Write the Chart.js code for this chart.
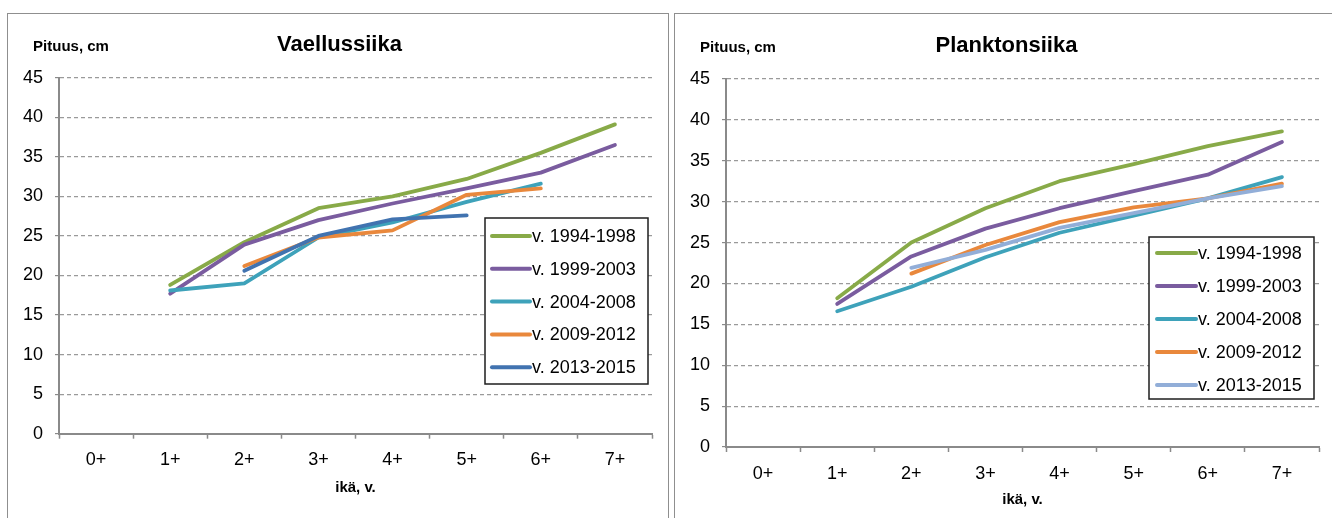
<!DOCTYPE html>
<html>
<head>
<meta charset="utf-8">
<script src="https://cdn.jsdelivr.net/npm/chart.js@4.4.1/dist/chart.umd.min.js"></script>
<style>
  html, body { margin: 0; padding: 0; background: #fff; }
  body { width: 1332px; height: 518px; position: relative; overflow: hidden; }
  .panel { position: absolute; border: 1.5px solid #8f8f8f; border-bottom: none; box-sizing: border-box; }
  canvas { position: absolute; }
</style>
</head>
<body>
<div class="panel" style="left:7px;top:13px;width:662px;height:530px"></div>
<div class="panel" style="left:674px;top:13px;width:670px;height:530px"></div>
<canvas id="vaellus" style="left:0;top:0" width="668" height="518"></canvas>
<canvas id="plankton" style="left:668px;top:0" width="664" height="518"></canvas>

<script>
// Age classes on the x axis and tick values on the y axis (length, cm)
const ageClasses = ['0+', '1+', '2+', '3+', '4+', '5+', '6+', '7+'];
const lengthTicks = [0, 5, 10, 15, 20, 25, 30, 35, 40, 45];

// Sampling periods (legend entries)
const periods = ['v. 1994-1998', 'v. 1999-2003', 'v. 2004-2008', 'v. 2009-2012', 'v. 2013-2015'];

// Vaellussiika: mean length by age, one array per period
const vaellus1994 = [null, 18.8, 24.2, 28.5, 30.0, 32.2, 35.5, 39.1];
const vaellus1999 = [null, 17.7, 23.9, 27.0, 29.1, 31.0, 33.0, 36.5];
const vaellus2004 = [null, 18.1, 19.0, 24.8, 26.7, 29.3, 31.6, null];
const vaellus2009 = [null, null, 21.2, 24.8, 25.7, 30.2, 31.0, null];
const vaellus2013 = [null, null, 20.6, 25.0, 27.1, 27.6, null, null];

// Planktonsiika: mean length by age, one array per period
const plankton1994 = [null, 18.2, 25.0, 29.2, 32.5, 34.6, 36.8, 38.6];
const plankton1999 = [null, 17.5, 23.3, 26.7, 29.2, 31.3, 33.3, 37.3];
const plankton2004 = [null, 16.6, 19.6, 23.2, 26.2, 28.3, 30.4, 33.0];
const plankton2009 = [null, null, 21.2, 24.7, 27.5, 29.3, 30.4, 32.2];
const plankton2013 = [null, null, 21.9, 24.1, 26.8, 28.6, 30.4, 31.9];

const FONT = '"Liberation Sans", Arial, sans-serif';

// Titles, axis captions and an in-plot legend drawn on top of the chart
const decorPlugin = {
  id: 'decor',
  afterDraw(chart, args, o) {
    const { ctx, chartArea: a } = chart;
    const cx = (a.left + a.right) / 2;
    ctx.save();
    ctx.fillStyle = '#000';
    ctx.textBaseline = 'middle';
    ctx.textAlign = 'center';
    ctx.font = 'bold 22px ' + FONT;
    ctx.fillText(o.title, cx + o.titleDx, a.top - 33);
    ctx.font = 'bold 15px ' + FONT;
    ctx.fillText(o.yTitle, a.left + 12, a.top - 31);
    ctx.fillText(o.xTitle, cx, a.bottom + o.xTitleDy);

    // legend
    const b = o.legend;
    ctx.fillStyle = '#fff';
    ctx.fillRect(b.x, b.y, b.w, b.h);
    ctx.strokeStyle = '#1e1e1e';
    ctx.lineWidth = 1.5;
    ctx.strokeRect(b.x, b.y, b.w, b.h);
    ctx.font = '18px ' + FONT;
    ctx.textAlign = 'left';
    chart.data.datasets.forEach((ds, i) => {
      const y = b.y + b.first + i * b.step;
      ctx.strokeStyle = ds.borderColor;
      ctx.lineWidth = 4;
      ctx.lineCap = 'round';
      ctx.beginPath();
      ctx.moveTo(b.x + b.lineX0, y);
      ctx.lineTo(b.x + b.lineX1, y);
      ctx.stroke();
      ctx.fillStyle = '#000';
      ctx.fillText(ds.label, b.x + b.lineX1 + 2, y + 1);
    });
    ctx.restore();
  }
};

function makeDatasets(seriesList, colors) {
  const n = seriesList.length;
  return seriesList.map((values, i) => ({
    label: periods[i],
    data: values,
    borderColor: colors[i],
    backgroundColor: colors[i],
    borderWidth: 3.8,
    borderCapStyle: 'round',
    borderJoinStyle: 'round',
    pointRadius: 0,
    pointHoverRadius: 0,
    tension: 0,
    spanGaps: false,
    fill: false,
    order: n - 1 - i
  }));
}

function makeChart(id, seriesList, colors, geo, decor) {
  return new Chart(document.getElementById(id), {
    type: 'line',
    data: { labels: ageClasses, datasets: makeDatasets(seriesList, colors) },
    options: {
      responsive: false,
      animation: false,
      devicePixelRatio: 1,
      layout: { padding: { left: 0, top: geo.top, right: geo.right, bottom: 0 } },
      plugins: {
        legend: { display: false },
        title: { display: false },
        tooltip: { enabled: false },
        decor: decor
      },
      scales: {
        x: {
          type: 'category',
          offset: true,
          grid: {
            display: true,
            offset: true,
            drawOnChartArea: false,
            drawTicks: true,
            tickLength: 5,
            tickColor: '#8a8a8a',
            tickWidth: 1.5
          },
          border: { display: true, color: '#8a8a8a', width: 2 },
          ticks: { color: '#000', font: { family: FONT, size: 18 }, padding: 11, maxRotation: 0, autoSkip: false },
          afterFit: s => { s.height = geo.xHeight; }
        },
        y: {
          min: 0,
          max: 45,
          afterBuildTicks: s => { s.ticks = lengthTicks.map(v => ({ value: v })); },
          grid: {
            color: '#9a9a9a',
            lineWidth: 1.2,
            drawTicks: true,
            tickLength: 4,
            tickColor: '#8a8a8a',
            tickBorderDash: []
          },
          border: { display: true, color: '#8a8a8a', width: 2, dash: [4, 3] },
          ticks: { color: '#000', font: { family: FONT, size: 18 }, padding: 12 },
          afterFit: s => { s.width = geo.yWidth; }
        }
      }
    },
    plugins: [decorPlugin]
  });
}

makeChart('vaellus',
  [vaellus1994, vaellus1999, vaellus2004, vaellus2009, vaellus2013],
  ['#88aa48', '#7a5c9f', '#3ea2ba', '#e9883c', '#4173b0'],
  { top: 77.7, right: 16, xHeight: 84.3, yWidth: 59 },
  {
    title: 'Vaellussiika', titleDx: -16, yTitle: 'Pituus, cm', xTitle: 'ikä, v.', xTitleDy: 54,
    legend: { x: 485, y: 218, w: 163, h: 166, first: 18, step: 32.8, lineX0: 7, lineX1: 45 }
  });

makeChart('plankton',
  [plankton1994, plankton1999, plankton2004, plankton2009, plankton2013],
  ['#88aa48', '#7a5c9f', '#3ea2ba', '#e9883c', '#92aed8'],
  { top: 79, right: 13, xHeight: 71, yWidth: 58 },
  {
    title: 'Planktonsiika', titleDx: -16, yTitle: 'Pituus, cm', xTitle: 'ikä, v.', xTitleDy: 53,
    legend: { x: 481, y: 237, w: 165, h: 162, first: 16, step: 33, lineX0: 8, lineX1: 47 }
  });
</script>
</body>
</html>
